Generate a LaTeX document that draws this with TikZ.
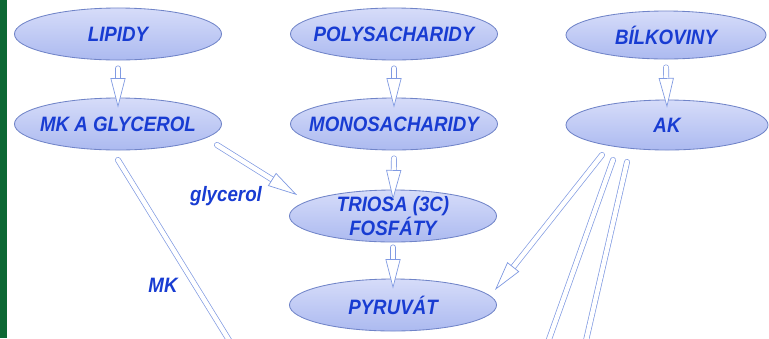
\documentclass[tikz,border=0pt]{standalone}
\usepackage{fontspec}
\usepackage{xcolor}
\usepackage{tikz}
\newfontfamily\diagfont[FakeStretch=0.9]{Liberation Sans}
\usetikzlibrary{shapes,arrows,positioning,calc,arrows.meta}

\definecolor{sidegreen}{RGB}{12,104,52}
\definecolor{rimblue}{RGB}{112,132,200}
\definecolor{inkblue}{RGB}{24,60,210}
\definecolor{flowblue}{RGB}{128,154,226}
\definecolor{shadetop}{RGB}{214,220,249}
\definecolor{shademid}{RGB}{240,242,253}
\definecolor{shadebot}{RGB}{172,186,240}

\begin{document}
\begin{tikzpicture}[
    x=0.025cm, y=-0.025cm,
    txt/.style={text=inkblue, font=\diagfont\bfseries\itshape\fontsize{14.8}{15.6}\selectfont, align=center, inner sep=0pt},
    blob/.style={ellipse, draw=rimblue, line width=0.6pt, top color=shadetop, middle color=shademid, bottom color=shadebot, minimum width=5.175cm, minimum height=1.3cm, inner sep=0pt, label={[txt]center:#1}},
    flowline/.style={draw=flowblue, line width=0.5pt, double=white, double distance=3.2pt, line cap=round},
    flowhead/.style={draw=white, line width=0.5pt, shorten <=4pt, -{Triangle[length=21pt, width=10.7pt, color=flowblue, fill=white]}}
]
    % background and side bar
    \useasboundingbox (0,0) rectangle (769,338);
    \clip (0,0) rectangle (769,338);
    \fill [white] (0,0) rectangle (769,338);
    \fill [sidegreen] (0,0) rectangle (7,338);

    % Sources
    \node [blob=LIPIDY] (lipidy) at (118,34) {};
    \node [blob=POLYSACHARIDY] (poly) at (394,34) {};
    \node [blob=BÍLKOVINY, minimum width=5cm, minimum height=1.2cm] (bilk) at (666,35) {};
    % Products
    \node [blob=MK A GLYCEROL] (mk) at (118,124) {};
    \node [blob=MONOSACHARIDY] (mono) at (394,124) {};
    \node [blob=AK, minimum width=5.05cm, minimum height=1.25cm] (ak) at (667,125) {};
    \node [blob={TRIOSA (3C)\\FOSFÁTY}] (triosa) at (393,216) {};
    \node [blob=PYRUVÁT] (pyr) at (393,305) {};

    % Labels
    \node [txt] (glyc) at (226,196) {glycerol};
    \node [txt] (mklab) at (163,285) {MK};

    % Loose ends
    \coordinate (mkout) at (232,345);
    \coordinate (akoutA) at (547,345);
    \coordinate (akoutB) at (585,345);
    \draw [flowline] ($(mk)+(0,36)$) -- (mkout);
    \draw [flowline] ($(ak)+(-54,35)$) -- (akoutA);
    \draw [flowline] ($(ak)+(-40,37)$) -- (akoutB);

    % Arrows
    \foreach \a/\p/\b/\q in {lipidy.south/{0,8}/mk.north/{0,10}, poly.south/{0,8}/mono.north/{0,10}, bilk.south/{0,8}/ak.north/{0,8}, mono.south/{0,8}/triosa.north/{0,10}, triosa.south/{0,5}/pyr.north/{0,10}, mk/{99,21}/triosa/{-96,-21}, ak/{-65,30}/pyr/{102,-15}} {
        \draw [flowline, shorten >=15pt] ($(\a)+(\p)$) -- ($(\b)+(\q)$);
        \draw [flowhead] ($(\a)+(\p)$) -- ($(\b)+(\q)$);
    }
\end{tikzpicture}
\end{document}
